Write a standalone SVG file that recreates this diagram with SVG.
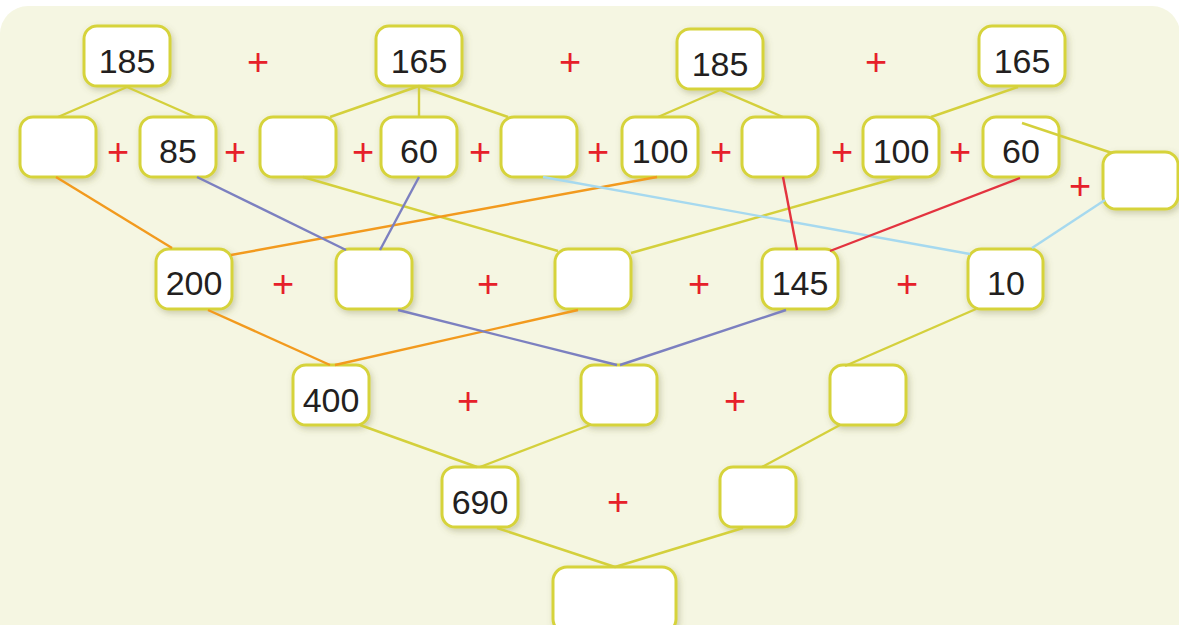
<svg xmlns="http://www.w3.org/2000/svg" width="1179" height="625" viewBox="0 0 1179 625">
<defs>
<filter id="sh" x="-20%" y="-20%" width="140%" height="150%">
<feDropShadow dx="2" dy="3" stdDeviation="3" flood-color="#6b6a30" flood-opacity="0.3"/>
</filter>
<style>
.n{fill:#fff;stroke:#d6d33b;stroke-width:3;filter:url(#sh)}
.t{font-family:"Liberation Sans",Arial,sans-serif;font-size:34px;fill:#231f20;text-anchor:middle}
.p{font-family:"Liberation Sans",Arial,sans-serif;font-size:38px;fill:#e6202a;text-anchor:middle}
.c line{stroke-width:2.4;fill:none}
.y{stroke:#d4d03c}
.o{stroke:#f29a1e}
.v{stroke:#7c80c0}
.b{stroke:#a6d9ef}
.r{stroke:#e3333f}
</style>
</defs>
<rect x="0" y="6" width="1180" height="660" rx="28" fill="#f5f6e2"/>

<g id="nodes">
<g id="n185a"><rect class="n" x="84" y="26" width="86" height="60" rx="13"/><text class="t" x="127" y="73">185</text></g>
<g id="n165a"><rect class="n" x="376" y="26" width="86" height="60" rx="13"/><text class="t" x="419" y="73">165</text></g>
<g id="n185b"><rect class="n" x="677" y="29" width="86" height="60" rx="13"/><text class="t" x="720" y="76">185</text></g>
<g id="n165b"><rect class="n" x="979" y="26" width="86" height="60" rx="13"/><text class="t" x="1022" y="73">165</text></g>

<g id="r2a"><rect class="n" x="20" y="117" width="76" height="60" rx="13"/></g>
<g id="r2b"><rect class="n" x="140" y="117" width="76" height="60" rx="13"/><text class="t" x="178" y="163">85</text></g>
<g id="r2c"><rect class="n" x="260" y="117" width="76" height="60" rx="13"/></g>
<g id="r2d"><rect class="n" x="381" y="117" width="76" height="60" rx="13"/><text class="t" x="419" y="163">60</text></g>
<g id="r2e"><rect class="n" x="501" y="117" width="76" height="60" rx="13"/></g>
<g id="r2f"><rect class="n" x="622" y="117" width="76" height="60" rx="13"/><text class="t" x="660" y="163">100</text></g>
<g id="r2g"><rect class="n" x="742" y="117" width="76" height="60" rx="13"/></g>
<g id="r2h"><rect class="n" x="863" y="117" width="76" height="60" rx="13"/><text class="t" x="901" y="163">100</text></g>
<g id="r2i"><rect class="n" x="983" y="117" width="76" height="60" rx="13"/><text class="t" x="1021" y="163">60</text></g>
<g id="r2j"><rect class="n" x="1103" y="152" width="75" height="57" rx="13"/></g>

<g id="r3a"><rect class="n" x="156" y="249" width="76" height="60" rx="13"/><text class="t" x="194" y="295">200</text></g>
<g id="r3b"><rect class="n" x="336" y="249" width="76" height="60" rx="13"/></g>
<g id="r3c"><rect class="n" x="555" y="249" width="76" height="60" rx="13"/></g>
<g id="r3d"><rect class="n" x="762" y="249" width="76" height="60" rx="13"/><text class="t" x="800" y="295">145</text></g>
<g id="r3e"><rect class="n" x="968" y="249" width="75" height="60" rx="13"/><text class="t" x="1006" y="295">10</text></g>

<g id="r4a"><rect class="n" x="293" y="365" width="76" height="60" rx="13"/><text class="t" x="331" y="412">400</text></g>
<g id="r4b"><rect class="n" x="581" y="365" width="76" height="60" rx="13"/></g>
<g id="r4c"><rect class="n" x="830" y="365" width="76" height="60" rx="13"/></g>

<g id="r5a"><rect class="n" x="442" y="467" width="76" height="60" rx="13"/><text class="t" x="480" y="514">690</text></g>
<g id="r5b"><rect class="n" x="720" y="467" width="76" height="60" rx="13"/></g>

<g id="r6"><rect class="n" x="553" y="567" width="123" height="66" rx="14"/></g>
</g>

<g id="plus">
<text class="p" x="258" y="75">+</text>
<text class="p" x="570" y="75">+</text>
<text class="p" x="876" y="75">+</text>
<text class="p" x="118" y="165">+</text>
<text class="p" x="235" y="165">+</text>
<text class="p" x="363" y="165">+</text>
<text class="p" x="480" y="165">+</text>
<text class="p" x="598" y="165">+</text>
<text class="p" x="721" y="165">+</text>
<text class="p" x="842" y="165">+</text>
<text class="p" x="960" y="165">+</text>
<text class="p" x="1080" y="199">+</text>
<text class="p" x="283" y="297">+</text>
<text class="p" x="488" y="297">+</text>
<text class="p" x="699" y="297">+</text>
<text class="p" x="907" y="297">+</text>
<text class="p" x="468" y="414">+</text>
<text class="p" x="735" y="414">+</text>
<text class="p" x="618" y="515">+</text>
</g>

<g id="connectors" class="c">
<line class="y" x1="127" y1="87" x2="58" y2="117"/>
<line class="y" x1="127" y1="87" x2="195" y2="117"/>
<line class="y" x1="419" y1="86" x2="330" y2="117"/>
<line class="y" x1="419" y1="86" x2="419" y2="117"/>
<line class="y" x1="419" y1="86" x2="508" y2="117"/>
<line class="y" x1="720" y1="90" x2="658" y2="117"/>
<line class="y" x1="720" y1="90" x2="783" y2="117"/>
<line class="y" x1="1018" y1="87" x2="931" y2="117"/>
<line class="y" x1="1022" y1="123" x2="1112" y2="153"/>
<line class="y" x1="303" y1="177" x2="558" y2="251"/>
<line class="y" x1="900" y1="177" x2="631" y2="253"/>
<line class="y" x1="976" y1="309" x2="845" y2="366"/>
<line class="y" x1="360" y1="425" x2="477" y2="467"/>
<line class="y" x1="590" y1="425" x2="480" y2="467"/>
<line class="y" x1="840" y1="425" x2="762" y2="467"/>
<line class="y" x1="497" y1="528" x2="615" y2="567"/>
<line class="y" x1="743" y1="528" x2="615" y2="567"/>
<line class="o" x1="56" y1="177" x2="172" y2="248"/>
<line class="o" x1="657" y1="177" x2="231" y2="255"/>
<line class="o" x1="208" y1="310" x2="330" y2="365"/>
<line class="o" x1="578" y1="310" x2="335" y2="365"/>
<line class="v" x1="197" y1="177" x2="346" y2="250"/>
<line class="v" x1="419" y1="177" x2="380" y2="250"/>
<line class="v" x1="398" y1="310" x2="617" y2="365"/>
<line class="v" x1="786" y1="310" x2="620" y2="365"/>
<line class="b" x1="543" y1="177" x2="970" y2="254"/>
<line class="b" x1="1105" y1="200" x2="1032" y2="248"/>
<line class="r" x1="783" y1="177" x2="797" y2="250"/>
<line class="r" x1="1020" y1="178" x2="830" y2="251"/>
</g>
</svg>
